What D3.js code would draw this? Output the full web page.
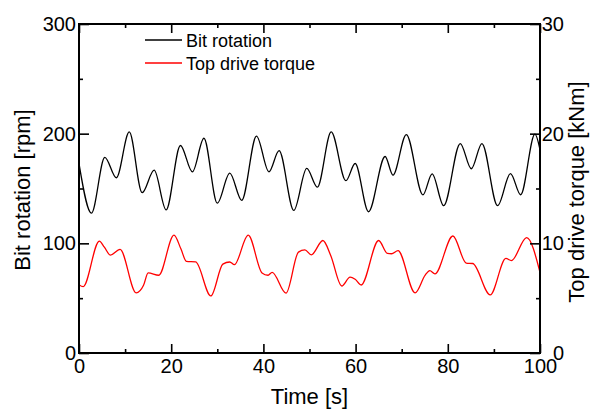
<!DOCTYPE html>
<html>
<head>
<meta charset="utf-8">
<script src="https://cdn.jsdelivr.net/npm/d3@7"></script>
<style>
  body { margin: 0; background: #fff; }
  svg { display: block; font-family: "Liberation Sans", Arial, sans-serif; }
</style>
</head>
<body>
<svg id="chart" width="593" height="410"></svg>
<script>
'use strict';

/* -- Data ----------------------------------------------------------------- */
const bitTime = [0, 2.7, 5.6, 8.1, 10.9, 13.7, 16.3, 18.9, 22.0, 24.6, 27.1, 30.0, 32.7, 35.3,
    38.5, 41.2, 43.4, 46.6, 49.4, 51.7, 54.7, 57.9, 59.9, 62.8, 66.4, 68.1, 71.0, 74.6, 76.6,
    79.1, 82.7, 85.1, 87.4, 90.8, 93.6, 95.8, 98.9, 100];
const bitRpm = [172.6, 127.5, 178.4, 159.8, 201.6, 146.2, 166.7, 130.5, 189.2, 165.2, 195.8,
    136.6, 164, 139.2, 197.8, 165.2, 184.5, 130, 168.3, 151.2, 201.6, 157.1, 172.8, 128.8, 179.2,
    162.2, 199.2, 144.2, 163.4, 134.3, 191, 168, 191, 134.3, 163.6, 144.3, 199.6, 185.5];

const torqueTime = [0, 0.9, 4.4, 5.5, 6.8, 8.9, 12.4, 14.0, 15.0, 17.3, 20.6, 22.1, 23.3, 25.3,
    28.6, 31.2, 32.7, 33.7, 36.7, 39.7, 41.0, 41.9, 44.9, 47.6, 49.0, 50.4, 52.9, 54.6, 57.0,
    58.8, 59.9, 61.2, 65.0, 66.9, 67.8, 69.2, 72.9, 75.1, 76.1, 77.2, 81.1, 84.0, 85.4, 89.2,
    92.6, 93.8, 97.1, 100];
const torqueKNm = [6.23, 6.05, 10.2, 9.65, 8.93, 9.45, 5.48, 6.17, 7.30, 7.09, 10.75, 9.5,
    8.35, 8.3, 5.2, 8.1, 8.3, 8.05, 10.75, 7.3, 7.09, 7.35, 5.46, 9.2, 9.4, 8.95, 10.26, 8.9,
    6.11, 6.92, 6.72, 6.2, 10.26, 9.08, 9.05, 9.33, 5.48, 7.1, 7.52, 7.22, 10.67, 8.2, 8.16,
    5.3, 8.62, 8.43, 10.52, 7.35];

const xMajor = [0, 20, 40, 60, 80, 100];
const xMinor = [10, 30, 50, 70, 90];
const rpmMajor = [0, 100, 200, 300];
const rpmMinor = [50, 150, 250];
const kNmMajor = [0, 10, 20, 30];
const kNmMinor = [5, 15, 25];

const legendItems = [
    { label: 'Bit rotation', color: '#000000' },
    { label: 'Top drive torque', color: '#ff0000' }
];

/* -- Layout --------------------------------------------------------------- */
const plot = { left: 79, right: 540, top: 24, bottom: 353 };
const svg = d3.select('#chart');

const x = d3.scaleLinear().domain([0, 100]).range([plot.left, plot.right]);
const yL = d3.scaleLinear().domain([0, 300]).range([plot.bottom, plot.top]);
const yR = d3.scaleLinear().domain([0, 30]).range([plot.bottom, plot.top]);

/* -- Curves --------------------------------------------------------------- */
const bitData = bitTime.map((t, i) => ({ t: t, v: bitRpm[i] }));
const torqueData = torqueTime.map((t, i) => ({ t: t, v: torqueKNm[i] }));

svg.append('path')
    .datum(torqueData)
    .attr('fill', 'none')
    .attr('stroke', '#ff0000')
    .attr('stroke-width', 1.3)
    .attr('d', d3.line().x(d => x(d.t)).y(d => yR(d.v)).curve(d3.curveMonotoneX));

svg.append('path')
    .datum(bitData)
    .attr('fill', 'none')
    .attr('stroke', '#000000')
    .attr('stroke-width', 1.3)
    .attr('d', d3.line().x(d => x(d.t)).y(d => yL(d.v)).curve(d3.curveMonotoneX));

/* -- Axes (ticks point inward) ------------------------------------------- */
const styleAxis = function(g) {
    g.select('.domain').remove();
    g.selectAll('.tick line').attr('stroke', '#000').attr('stroke-width', 1.6);
    g.selectAll('.tick text').attr('fill', '#000').style('font-size', '20px')
        .style('font-family', '"Liberation Sans", Arial, sans-serif');
};

const addAxis = function(axisFn, scale, major, minor, tr, majorLen, minorLen, pad) {
    svg.append('g').attr('transform', tr)
        .call(axisFn(scale).tickValues(minor).tickSize(-minorLen).tickFormat(''))
        .call(styleAxis);
    return svg.append('g').attr('transform', tr)
        .call(axisFn(scale).tickValues(major).tickSize(-majorLen).tickPadding(pad)
            .tickFormat(d3.format('d')))
        .call(styleAxis);
};

addAxis(d3.axisBottom, x, xMajor, xMinor, 'translate(0,' + plot.bottom + ')', 9, 4, 6);
addAxis(d3.axisTop, x, xMajor, xMinor, 'translate(0,' + plot.top + ')', 9, 4, 6)
    .selectAll('.tick text').remove();
addAxis(d3.axisLeft, yL, rpmMajor, rpmMinor, 'translate(' + plot.left + ',0)', 10, 4, 3);
const rightAxis = addAxis(d3.axisRight, yR, kNmMajor, kNmMinor,
    'translate(' + plot.right + ',0)', 10, 4, 3);
rightAxis.selectAll('.tick text').attr('text-anchor', 'end').attr('x', 24);

/* -- Frame ---------------------------------------------------------------- */
svg.append('rect')
    .attr('x', plot.left).attr('y', plot.top)
    .attr('width', plot.right - plot.left).attr('height', plot.bottom - plot.top)
    .attr('fill', 'none').attr('stroke', '#000').attr('stroke-width', 2);

/* -- Axis titles ---------------------------------------------------------- */
svg.append('text')
    .attr('x', (plot.left + plot.right) / 2).attr('y', 404)
    .attr('text-anchor', 'middle').style('font-size', '22px')
    .text('Time [s]');

svg.append('text')
    .attr('transform', 'translate(30,' + 190 + ') rotate(-90)')
    .attr('text-anchor', 'middle').style('font-size', '22px')
    .text('Bit rotation [rpm]');

svg.append('text')
    .attr('transform', 'translate(584,' + 192 + ') rotate(-90)')
    .attr('text-anchor', 'middle').style('font-size', '22px')
    .text('Top drive torque [kNm]');

/* -- Legend --------------------------------------------------------------- */
const legend = svg.append('g').attr('transform', 'translate(145,40)');
const rows = legend.selectAll('g').data(legendItems).enter().append('g')
    .attr('transform', (d, i) => 'translate(0,' + i * 23 + ')');
rows.append('line')
    .attr('x1', 0).attr('x2', 37).attr('y1', 0).attr('y2', 0)
    .attr('stroke', d => d.color).attr('stroke-width', 1.3);
rows.append('text')
    .attr('x', 41).attr('y', 6.5).style('font-size', '18px')
    .text(d => d.label);
</script>
</body>
</html>
